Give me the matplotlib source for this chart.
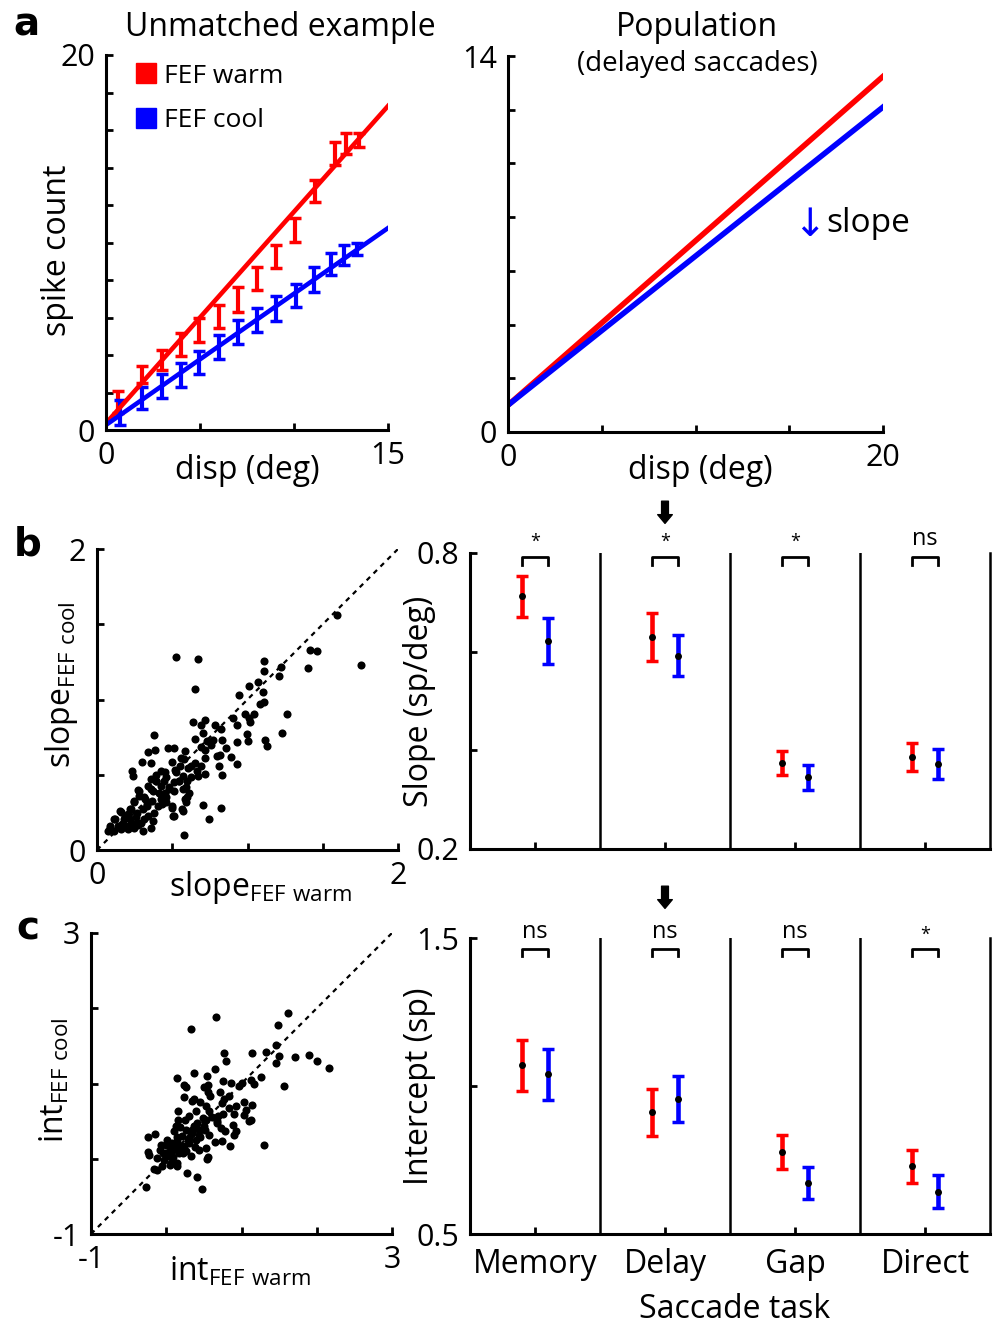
import numpy as np
import matplotlib.pyplot as plt
from matplotlib.lines import Line2D

plt.rcParams['font.family'] = ['Open Sans', 'DejaVu Sans']
plt.rcParams['mathtext.fontset'] = 'custom'
plt.rcParams['mathtext.rm'] = 'Open Sans'

W, H = 993, 1326
RED = '#ff0000'
BLUE = '#0000ff'

# panel a, example neuron
disp_warm = [0.66, 1.93, 2.96, 3.97, 4.96, 6.01, 7.0, 8.01, 9.02, 10.05, 11.1, 12.18, 12.75, 13.47]
count_warm = [1.5, 2.97, 3.73, 4.57, 5.33, 6.04, 6.97, 8.09, 9.24, 10.67, 12.76, 14.74, 15.27, 15.48]
err_warm = [0.6, 0.47, 0.53, 0.62, 0.62, 0.62, 0.65, 0.62, 0.62, 0.62, 0.58, 0.6, 0.55, 0.37]
disp_cool = [0.75, 1.93, 2.96, 3.97, 4.96, 6.01, 7.0, 8.01, 9.02, 10.09, 11.06, 11.97, 12.66, 13.37]
count_cool = [0.94, 1.7, 2.35, 2.92, 3.6, 4.42, 5.22, 5.87, 6.49, 7.16, 8.03, 8.85, 9.33, 9.65]
err_cool = [0.67, 0.6, 0.65, 0.64, 0.6, 0.65, 0.64, 0.62, 0.65, 0.62, 0.65, 0.6, 0.53, 0.31]
fit_warm = (0.36, 1.128)   # intercept, slope
fit_cool = (0.27, 0.70)

# panel a, population fits
pop_warm = (1.0, 0.612)
pop_cool = (1.0, 0.555)

# panel b scatter (slope warm, slope cool)
slope_warm = [1.598, 1.413, 1.464, 1.404, 1.753, 0.527, 0.671, 0.649, 1.111, 1.111, 1.22, 1.209, 1.067,
              1.013, 1.1, 0.942, 1.084, 1.111, 1.264, 1.227, 1.118, 1.131, 0.982, 1.009, 1.04, 1.018,
              0.996, 1.004, 0.931, 0.931, 0.927, 0.902, 0.858, 0.893, 0.833, 0.822, 0.782, 0.773, 0.756,
              0.733, 0.716, 0.693, 0.64, 0.704, 0.649, 0.689, 0.716, 0.72, 0.693, 0.671, 0.716, 0.8,
              0.811, 0.831, 0.82, 0.587, 0.578, 0.556, 0.627, 0.604, 0.649, 0.509, 0.471, 0.378, 0.384,
              0.342, 0.298, 0.356, 0.231, 0.238, 0.498, 0.516, 0.549, 0.571, 0.6, 0.542, 0.511, 0.453,
              0.46, 0.393, 0.393, 0.378, 0.427, 0.449, 0.476, 0.511, 0.571, 0.609, 0.582, 0.593, 0.571,
              0.5, 0.507, 0.704, 0.827, 0.747, 0.576, 0.36, 0.304, 0.356, 0.338, 0.371, 0.427, 0.46,
              0.404, 0.271, 0.282, 0.316, 0.333, 0.304, 0.249, 0.227, 0.267, 0.204, 0.16, 0.182, 0.227,
              0.26, 0.293, 0.338, 0.382, 0.371, 0.116, 0.142, 0.089, 0.076, 0.116, 0.16, 0.204, 0.249,
              0.271, 0.182, 0.218,
              0.089, 0.122, 0.156, 0.189, 0.222, 0.244, 0.278, 0.311, 0.333, 0.367, 0.356, 0.389, 0.411,
              0.433, 0.456, 0.478, 0.5, 0.511, 0.567, 0.6, 0.589, 0.544, 0.522, 0.622, 0.667, 0.267,
              0.211, 0.311, 0.167, 0.444, 0.422]
slope_cool = [1.564, 1.329, 1.32, 1.209, 1.227, 1.284, 1.267, 1.067, 1.256, 1.189, 1.213, 1.153, 1.113,
              1.093, 1.049, 1.033, 0.969, 0.982, 0.904, 0.776, 0.729, 0.693, 0.902, 0.878, 0.902, 0.849,
              0.773, 0.724, 0.833, 0.716, 0.571, 0.88, 0.678, 0.62, 0.731, 0.802, 0.829, 0.731, 0.698,
              0.727, 0.862, 0.833, 0.853, 0.776, 0.738, 0.682, 0.667, 0.613, 0.556, 0.493, 0.507, 0.627,
              0.556, 0.498, 0.633, 0.656, 0.604, 0.613, 0.56, 0.542, 0.578, 0.678, 0.678, 0.764, 0.662,
              0.653, 0.587, 0.578, 0.527, 0.493, 0.582, 0.533, 0.56, 0.493, 0.46, 0.46, 0.449, 0.516,
              0.482, 0.498, 0.46, 0.471, 0.427, 0.382, 0.416, 0.389, 0.404, 0.382, 0.342, 0.316, 0.26,
              0.28, 0.227, 0.302, 0.282, 0.204, 0.102, 0.147, 0.127, 0.471, 0.427, 0.393, 0.338, 0.316,
              0.293, 0.4, 0.36, 0.338, 0.304, 0.271, 0.316, 0.271, 0.249, 0.238, 0.253, 0.204, 0.182,
              0.216, 0.182, 0.227, 0.249, 0.193, 0.204, 0.16, 0.16, 0.127, 0.124, 0.138, 0.142, 0.149,
              0.164, 0.164, 0.204,
              0.149, 0.204, 0.258, 0.227, 0.271, 0.327, 0.393, 0.349, 0.293, 0.327, 0.404, 0.46, 0.382,
              0.304, 0.349, 0.404, 0.293, 0.227, 0.271, 0.349, 0.416, 0.46, 0.516, 0.482, 0.527, 0.182,
              0.16, 0.204, 0.171, 0.46, 0.527]

# panel c scatter (intercept warm, intercept cool)
int_warm = [1.621, 1.487, 0.661, 0.326, 1.464, 1.5, 1.455, 1.71, 1.902, 2.009, 2.161, 1.321, 1.143,
            1.567, 1.295, 1.254, 1.17, 1.129, 1.009, 0.964, 0.862, 0.772, 0.795, 0.652, 0.536, 0.366,
            0.143, 0.237, 0.259, 0.241, 0.348, 0.37, 0.504, 0.549, 0.558, 0.58, 0.451, 0.527, 0.571,
            0.714, 0.75, 0.772, 0.741, 0.839, 0.929, 1.027, 1.143, 1.054, 1.031, 1.098, 1.121, 0.83,
            0.759, 0.906, 0.683, 0.674, 0.732, 0.884, 0.929, 0.906, 0.78, 0.741, 0.848, 0.652, 0.527,
            0.482, 0.504, 0.438, 0.393, 0.348, 0.393, 0.304, 0.326, 0.259, 0.214, 0.161, 0.161, 0.134,
            0.103, 0.147, 0.125, 0.17, 0.192, 0.259, 0.326, 0.438, 0.527, 0.549, 0.536, 0.08, 0.08,
            0.036, 0.058, 0.147, 0.045, 0.0, -0.076, -0.143, -0.246, -0.241, -0.223, -0.121, -0.031,
            -0.063, -0.165, -0.121, 0.0, 0.277, 0.402, 0.473, -0.263, 0.393, 0.37, 0.304, 0.571, 0.438,
            0.237, 0.304,
            0.139, 0.183, 0.227, 0.094, 0.293, 0.338, 0.404, 0.449, 0.515, 0.05, -0.039, 0.006, 0.249,
            0.183, 0.603, 0.139, -0.083, 0.382, 0.67]
int_cool = [1.933, 1.778, 1.884, 1.72, 1.516, 1.36, 1.267, 1.347, 1.373, 1.298, 1.209, 1.418, 1.4,
            0.964, 0.178, 1.089, 1.0, 1.053, 1.009, 0.964, 1.009, 1.409, 1.298, 1.187, 1.098, 1.133,
            1.067, 0.982, 0.956, 0.818, 0.773, 0.796, 0.956, 0.982, 0.884, 0.84, 0.76, 0.698, 0.636,
            0.884, 1.027, 0.796, 0.742, 0.831, 0.707, 0.756, 0.711, 0.644, 0.587, 0.498, 0.511, 0.676,
            0.6, 0.596, 0.564, 0.498, 0.409, 0.453, 0.364, 0.32, 0.364, 0.231, 0.164, 0.222, 0.52,
            0.542, 0.431, 0.387, 0.44, 0.342, 0.253, 0.209, 0.333, 0.387, 0.298, 0.52, 0.64, 0.431,
            0.364, 0.231, 0.142, 0.076, 0.142, 0.098, 0.031, 0.12, 0.142, 0.022, -0.004, 0.209, 0.098,
            0.031, -0.058, -0.093, -0.084, 0.187, 0.187, 0.333, 0.289, 0.084, 0.053, 0.009, -0.013,
            -0.093, -0.138, -0.147, 0.076, -0.191, -0.236, -0.396, -0.382, 0.631, 0.431, 0.564, 0.32,
            0.32, 0.164, 0.276,
            0.293, 0.16, 0.072, 0.027, 0.249, 0.382, 0.471, 0.293, 0.382, 0.16, 0.072, 0.249, 0.515,
            0.426, 0.559, -0.06, 0.116, 0.16, 0.471]

# panels b/c, task summaries
tasks = ['Memory', 'Delay', 'Gap', 'Direct']
slope_w = [0.712, 0.630, 0.374, 0.387]
slope_w_err = [0.042, 0.048, 0.025, 0.028]
slope_c = [0.622, 0.592, 0.345, 0.372]
slope_c_err = [0.046, 0.042, 0.025, 0.030]
slope_sig = ['*', '*', '*', 'ns']
int_w = [1.070, 0.911, 0.776, 0.729]
int_w_err = [0.087, 0.080, 0.057, 0.056]
int_c = [1.039, 0.956, 0.671, 0.643]
int_c_err = [0.085, 0.077, 0.054, 0.055]
int_sig = ['ns', 'ns', 'ns', '*']

fig = plt.figure(figsize=(W / 100, H / 100), dpi=100)


def axes_px(left, top, right, bottom):
    return fig.add_axes([left / W, 1 - bottom / H, (right - left) / W, (bottom - top) / H])


def text_px(x, y, s, **kw):
    kw.setdefault('ha', 'center')
    kw.setdefault('va', 'center')
    fig.text(x / W, 1 - y / H, s, **kw)


def style(ax, spines=('left', 'bottom')):
    for side in ['left', 'right', 'top', 'bottom']:
        ax.spines[side].set_visible(side in spines)
        ax.spines[side].set_linewidth(2.2)
    ax.tick_params(direction='in', length=5, width=2, labelsize=22, pad=8)


LS = 23  # label size

# ---- a left
ax = axes_px(106, 55, 388, 430)
ax.errorbar(disp_warm, count_warm, yerr=err_warm, fmt='none', ecolor=RED, elinewidth=3,
            capsize=4, capthick=2.5)
ax.errorbar(disp_cool, count_cool, yerr=err_cool, fmt='none', ecolor=BLUE, elinewidth=3,
            capsize=4, capthick=2.5)
xx = np.array([0, 15])
ax.plot(xx, fit_warm[0] + fit_warm[1] * xx, color=RED, lw=3.3)
ax.plot(xx, fit_cool[0] + fit_cool[1] * xx, color=BLUE, lw=3.3)
ax.set_xlim(0, 15)
ax.set_ylim(0, 20)
ax.set_xticks([0, 5, 10, 15], ['0', '', '', '15'])
ax.set_yticks(np.arange(0, 21, 2), ['0'] + [''] * 9 + ['20'])
style(ax)
handles = [Line2D([], [], marker='s', ls='', color=RED, markersize=14),
           Line2D([], [], marker='s', ls='', color=BLUE, markersize=14)]
ax.legend(handles, ['FEF warm', 'FEF cool'], loc='upper left', bbox_to_anchor=(0.01, 1.005),
          frameon=False, fontsize=19, handletextpad=-0.3, labelspacing=0.75, borderaxespad=0)
text_px(280, 27, 'Unmatched example', fontsize=LS)
text_px(247, 470, 'disp (deg)', fontsize=LS)
text_px(57, 250, 'spike count', fontsize=LS, rotation=90)
text_px(26, 24, 'a', fontsize=28, fontweight='bold', family='DejaVu Sans')

# ---- a right
ax = axes_px(508, 56, 883, 432)
xx = np.array([0, 20])
ax.plot(xx, pop_warm[0] + pop_warm[1] * xx, color=RED, lw=4)
ax.plot(xx, pop_cool[0] + pop_cool[1] * xx, color=BLUE, lw=4)
ax.set_xlim(0, 20)
ax.set_ylim(0, 14)
ax.set_xticks([0, 5, 10, 15, 20], ['0', '', '', '', '20'])
ax.set_yticks(np.arange(0, 15, 2), ['0'] + [''] * 6 + ['14'])
style(ax)
ax.text(16.95, 7.7, '\u2193', color=BLUE, fontsize=28, ha='right', va='center', family='DejaVu Sans')
ax.text(17.0, 7.75, 'slope', color='k', fontsize=24, ha='left', va='center')
text_px(697, 27, 'Population', fontsize=LS)
text_px(697, 64, '(delayed saccades)', fontsize=20)
text_px(700, 470, 'disp (deg)', fontsize=LS)


def scatter_panel(rect, xs, ys, lim, ticks, ticklabels, xlab, ylab, xl_pos, yl_pos):
    ax = axes_px(*rect)
    ax.plot(lim, lim, color='k', lw=1.6, ls=(0, (2.2, 2.2)))
    ax.scatter(xs, ys, s=34, color='k', linewidths=0, zorder=3)
    ax.set_xlim(lim)
    ax.set_ylim(lim)
    ax.set_xticks(ticks, ticklabels)
    ax.set_yticks(ticks, ticklabels)
    style(ax)
    text_px(xl_pos[0], xl_pos[1], xlab, fontsize=LS)
    text_px(yl_pos[0], yl_pos[1], ylab, fontsize=LS, rotation=90)
    return ax


scatter_panel((97, 549, 398, 850), slope_warm, slope_cool, [0, 2], [0, 0.5, 1, 1.5, 2],
              ['0', '', '', '', '2'],
              r'slope$_{\mathregular{FEF\ warm}}$', r'slope$_{\mathregular{FEF\ cool}}$',
              (260, 888), (62, 685))
text_px(28, 544, 'b', fontsize=28, fontweight='bold', family='DejaVu Sans')

scatter_panel((91, 933, 392, 1234), int_warm, int_cool, [-1, 3], [-1, 0, 1, 2, 3],
              ['-1', '', '', '', '3'],
              r'int$_{\mathregular{FEF\ warm}}$', r'int$_{\mathregular{FEF\ cool}}$',
              (240, 1272), (55, 1080))
text_px(28, 929, 'c', fontsize=28, fontweight='bold', family='DejaVu Sans')


def task_panel(rect, warm, warm_err, cool, cool_err, sig, ylim, yticks, yticklabels,
               ylab, br_y, br_h, sig_y, show_x):
    ax = axes_px(*rect)
    pos = np.arange(1, 5)
    ax.errorbar(pos - 0.1, warm, yerr=warm_err, fmt='o', color='k', ms=4, ecolor=RED,
                elinewidth=3.3, capsize=4, capthick=2.5)
    ax.errorbar(pos + 0.1, cool, yerr=cool_err, fmt='o', color='k', ms=4, ecolor=BLUE,
                elinewidth=3.3, capsize=4, capthick=2.5)
    for p, s in zip(pos, sig):
        ax.plot([p - 0.1, p - 0.1, p + 0.1, p + 0.1], [br_y - br_h, br_y, br_y, br_y - br_h],
                color='k', lw=2, clip_on=False)
        ax.text(p, sig_y, s, ha='center', va='bottom', fontsize=17 if s == 'ns' else 13)
    for d in [1.5, 2.5, 3.5]:
        ax.axvline(d, color='k', lw=1.8)
    ax.set_xlim(0.5, 4.5)
    ax.set_ylim(ylim)
    ax.set_yticks(yticks, yticklabels)
    ax.set_xticks(pos, tasks if show_x else [''] * 4)
    style(ax, spines=('left', 'bottom', 'right'))
    ax.spines['right'].set_linewidth(1.8)
    ax.tick_params(axis='x', labelsize=LS, pad=10)
    ax.annotate('', xy=(2, 1.1), xytext=(2, 1.175), xycoords=('data', 'axes fraction'),
                arrowprops=dict(arrowstyle='simple,head_length=0.45,head_width=0.75,tail_width=0.35',
                                color='k', mutation_scale=14, shrinkA=0, shrinkB=0),
                annotation_clip=False)
    ax.text(-0.097, 0.5, ylab, transform=ax.transAxes, rotation=90, ha='center', va='center',
            fontsize=LS)
    return ax


task_panel((470, 553, 990, 849), slope_w, slope_w_err, slope_c, slope_c_err, slope_sig,
           [0.2, 0.8], [0.2, 0.4, 0.6, 0.8], ['0.2', '', '', '0.8'], 'Slope (sp/deg)',
           0.792, 0.017, 0.805, False)
task_panel((470, 938, 990, 1234), int_w, int_w_err, int_c, int_c_err, int_sig,
           [0.5, 1.5], [0.5, 1.0, 1.5], ['0.5', '', '1.5'], 'Intercept (sp)',
           1.463, 0.025, 1.48, True)
text_px(735, 1310, 'Saccade task', fontsize=LS)

fig.savefig('out.png', dpi=100)
